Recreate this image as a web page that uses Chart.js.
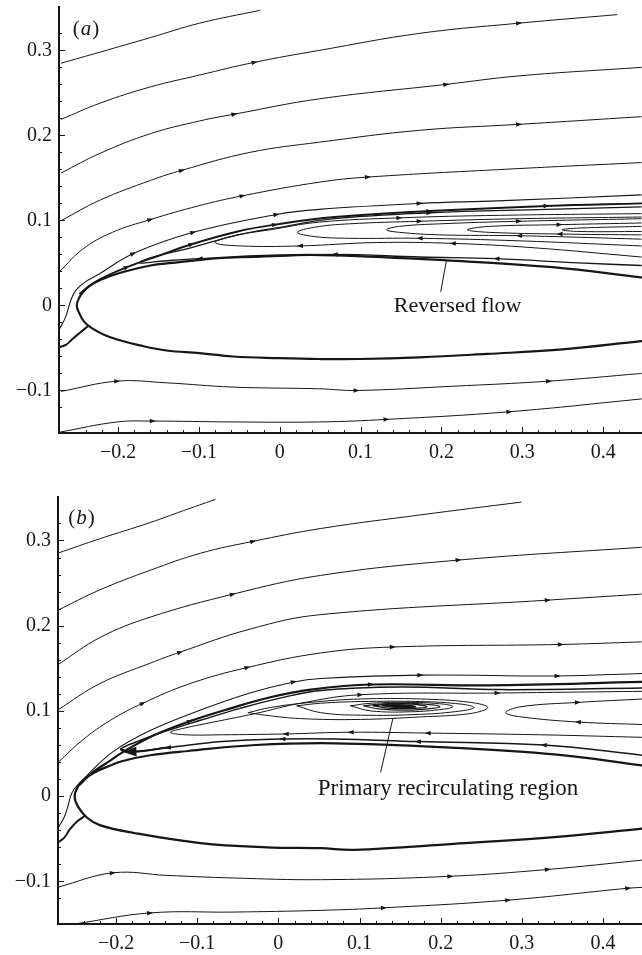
<!DOCTYPE html>
<html>
<head>
<meta charset="utf-8">
<script src="https://cdn.jsdelivr.net/npm/chart.js@4.4.1/dist/chart.umd.min.js"></script>
<style>
  html, body { margin: 0; padding: 0; background: #fff; }
  canvas { display: block; }
</style>
</head>
<body>
<canvas id="panelA" width="642" height="470"></canvas>
<canvas id="panelB" width="642" height="485"></canvas>
<script>
// axis ticks
const xTicks = [-0.2, -0.1, 0, 0.1, 0.2, 0.3, 0.4];
const xTickLabels = ['\u22120.2', '\u22120.1', '0', '0.1', '0.2', '0.3', '0.4'];
const yTicks = [-0.1, 0, 0.1, 0.2, 0.3];
const yTickLabels = ['\u22120.1', '0', '0.1', '0.2', '0.3'];

// ---- panel (a): streamlines as [x, y] points, in flow order ----
const aTop1 = [[-0.270,0.285],[-0.222,0.298],[-0.160,0.315],[-0.099,0.332],[-0.025,0.347]];
const aTop2 = [[-0.270,0.219],[-0.222,0.238],[-0.160,0.257],[-0.099,0.271],[-0.031,0.286],[0.049,0.300],[0.173,0.320],[0.296,0.332],[0.417,0.342]];
const aTop3 = [[-0.270,0.156],[-0.222,0.179],[-0.160,0.202],[-0.099,0.217],[-0.056,0.225],[0.049,0.243],[0.206,0.260],[0.296,0.270],[0.447,0.280]];
const aTop4 = [[-0.270,0.100],[-0.222,0.124],[-0.160,0.147],[-0.121,0.159],[-0.037,0.180],[0.049,0.192],[0.173,0.206],[0.296,0.213],[0.447,0.222]];
const aTop5 = [[-0.272,0.040],[-0.244,0.066],[-0.207,0.086],[-0.160,0.101],[-0.101,0.117],[-0.046,0.129],[0.049,0.145],[0.109,0.151],[0.296,0.161],[0.447,0.168]];
const aDivide = [[-0.272,-0.027],[-0.265,-0.014],[-0.261,-0.002],[-0.258,0.007],[-0.252,0.018],[-0.240,0.028],[-0.225,0.036],[-0.181,0.061],[-0.107,0.086],[-0.004,0.107],[0.049,0.113],[0.173,0.120],[0.269,0.123],[0.447,0.130]];
const aShear = [[-0.247,0.014],[-0.237,0.022],[-0.222,0.031],[-0.189,0.045],[-0.148,0.059],[-0.109,0.072],[-0.052,0.087],[-0.006,0.095],[0.068,0.104],[0.185,0.111],[0.330,0.117],[0.447,0.120]];
const aReverse = [[0.447,0.047],[0.370,0.050],[0.268,0.055],[0.173,0.057],[0.068,0.060],[-0.025,0.057],[-0.099,0.055],[-0.148,0.052],[-0.173,0.050],[-0.160,0.056],[-0.109,0.068],[-0.052,0.083],[-0.006,0.091],[0.068,0.102],[0.185,0.109],[0.330,0.113],[0.447,0.116]];
const aLoop1 = [[0.447,0.057],[0.312,0.068],[0.214,0.073],[0.120,0.074],[0.025,0.070],[-0.049,0.070],[-0.080,0.074],[-0.056,0.082],[-0.012,0.089],[0.049,0.098],[0.148,0.103],[0.272,0.106],[0.447,0.108]];
const aLoop2 = [[0.447,0.070],[0.296,0.076],[0.173,0.079],[0.086,0.079],[0.043,0.081],[0.022,0.086],[0.043,0.092],[0.086,0.096],[0.173,0.099],[0.296,0.102],[0.447,0.104]];
const aLoop3 = [[0.447,0.078],[0.296,0.082],[0.198,0.083],[0.148,0.086],[0.132,0.089],[0.148,0.093],[0.198,0.096],[0.296,0.099],[0.447,0.102]];
const aLoop4 = [[0.447,0.083],[0.346,0.084],[0.259,0.086],[0.232,0.089],[0.259,0.093],[0.346,0.095],[0.447,0.097]];
const aLoop5 = [[0.447,0.087],[0.370,0.087],[0.349,0.089],[0.370,0.091],[0.447,0.093]];
const aStagnation = [[-0.272,-0.049],[-0.264,-0.046],[-0.257,-0.040],[-0.247,-0.032],[-0.238,-0.025]];
const aBelow1 = [[-0.270,-0.101],[-0.201,-0.089],[-0.140,-0.091],[-0.058,-0.096],[0.049,-0.098],[0.095,-0.100],[0.214,-0.095],[0.333,-0.089],[0.447,-0.080]];
const aBelow2 = [[-0.272,-0.149],[-0.201,-0.137],[-0.157,-0.136],[-0.058,-0.137],[0.049,-0.137],[0.132,-0.134],[0.284,-0.125],[0.447,-0.110]];
const aFoilUpper = [[0.447,0.033],[0.337,0.045],[0.206,0.053],[0.068,0.059],[0,0.059],[-0.072,0.056],[-0.133,0.050],[-0.160,0.047],[-0.195,0.039],[-0.222,0.030],[-0.235,0.023],[-0.243,0.016],[-0.248,0.009],[-0.251,0]];
const aFoilLower = [[-0.248,-0.009],[-0.242,-0.019],[-0.232,-0.027],[-0.216,-0.035],[-0.201,-0.040],[-0.173,-0.047],[-0.140,-0.053],[-0.099,-0.056],[-0.058,-0.060],[0,-0.062],[0.049,-0.063],[0.099,-0.063],[0.173,-0.061],[0.256,-0.057],[0.346,-0.052],[0.447,-0.042]];

// ---- panel (b) ----
const bTop1 = [[-0.272,0.285],[-0.220,0.302],[-0.158,0.321],[-0.117,0.335],[-0.078,0.348]];
const bTop2 = [[-0.272,0.218],[-0.220,0.242],[-0.158,0.265],[-0.096,0.285],[-0.031,0.299],[0.052,0.314],[0.175,0.330],[0.299,0.345]];
const bTop3 = [[-0.272,0.154],[-0.220,0.186],[-0.158,0.210],[-0.056,0.237],[0.052,0.259],[0.222,0.277],[0.447,0.292]];
const bTop4 = [[-0.272,0.101],[-0.220,0.132],[-0.158,0.156],[-0.121,0.169],[-0.035,0.196],[0.052,0.213],[0.332,0.230],[0.447,0.237]];
const bTop5 = [[-0.272,0.039],[-0.241,0.066],[-0.207,0.089],[-0.167,0.109],[-0.109,0.132],[-0.038,0.151],[0.052,0.168],[0.141,0.175],[0.348,0.178],[0.447,0.181]];
const bDivide = [[-0.272,-0.038],[-0.264,-0.025],[-0.259,-0.011],[-0.256,0],[-0.251,0.009],[-0.235,0.025],[-0.204,0.052],[-0.158,0.077],[-0.096,0.101],[-0.035,0.121],[0.019,0.134],[0.052,0.138],[0.175,0.142],[0.344,0.141],[0.449,0.144]];
const bShear = [[-0.244,0.014],[-0.230,0.027],[-0.210,0.040],[-0.191,0.052],[-0.152,0.072],[-0.109,0.088],[-0.059,0.103],[-0.010,0.116],[0.040,0.125],[0.114,0.131],[0.258,0.130],[0.449,0.134]];
const bReverse = [[0.449,0.048],[0.327,0.060],[0.172,0.064],[0.070,0.067],[0.005,0.067],[-0.069,0.064],[-0.136,0.057],[-0.183,0.052],[-0.194,0.055],[-0.177,0.063],[-0.146,0.074],[-0.096,0.089],[-0.047,0.103],[0.002,0.115],[0.052,0.124],[0.151,0.128],[0.274,0.125],[0.449,0.127]];
const bLoop1 = [[0.449,0.069],[0.323,0.072],[0.184,0.074],[0.089,0.075],[0.009,0.073],[-0.069,0.072],[-0.115,0.072],[-0.133,0.075],[-0.115,0.080],[-0.090,0.085],[-0.028,0.097],[0.027,0.109],[0.101,0.119],[0.270,0.121],[0.449,0.123]];
const bLoop2 = [[0.449,0.084],[0.369,0.087],[0.299,0.093],[0.280,0.098],[0.299,0.105],[0.369,0.110],[0.449,0.114]];
// closed rings of the primary recirculating region, outer to inner
const bRing1 = [[-0.037,0.098],[-0.010,0.104],[0.040,0.110],[0.101,0.114],[0.175,0.114],[0.237,0.110],[0.258,0.104],[0.237,0.097],[0.175,0.093],[0.101,0.090],[0.027,0.091],[-0.016,0.095],[-0.037,0.098]];
const bRing2 = [[0.023,0.106],[0.052,0.109],[0.101,0.111],[0.175,0.111],[0.225,0.108],[0.241,0.104],[0.225,0.100],[0.175,0.096],[0.101,0.095],[0.052,0.098],[0.023,0.106]];
const bRing3 = [[0.089,0.106],[0.114,0.109],[0.163,0.110],[0.203,0.108],[0.215,0.105],[0.203,0.102],[0.163,0.099],[0.114,0.100],[0.089,0.106]];
const bRing4 = [[0.105,0.106],[0.126,0.108],[0.163,0.109],[0.190,0.107],[0.199,0.105],[0.190,0.103],[0.163,0.101],[0.126,0.102],[0.105,0.106]];
const bRing5 = [[0.117,0.106],[0.138,0.108],[0.165,0.108],[0.183,0.105],[0.165,0.103],[0.138,0.103],[0.117,0.106]];
const bRing6 = [[0.128,0.106],[0.148,0.107],[0.169,0.105],[0.148,0.104],[0.128,0.106]];
const bRing7 = [[0.138,0.106],[0.152,0.1065],[0.162,0.105],[0.152,0.1045],[0.138,0.106]];
const bStagnation = [[-0.273,-0.055],[-0.264,-0.049],[-0.257,-0.039],[-0.247,-0.029],[-0.238,-0.023]];
const bBelow1 = [[-0.272,-0.107],[-0.204,-0.090],[-0.137,-0.093],[-0.056,-0.096],[0.052,-0.098],[0.212,-0.094],[0.332,-0.086],[0.449,-0.075]];
const bBelow2 = [[-0.251,-0.150],[-0.158,-0.137],[-0.056,-0.136],[0.052,-0.134],[0.130,-0.131],[0.283,-0.122],[0.431,-0.108],[0.449,-0.107]];
const bFoilUpper = [[0.449,0.036],[0.340,0.049],[0.212,0.057],[0.070,0.062],[-0.028,0.060],[-0.111,0.053],[-0.158,0.048],[-0.193,0.041],[-0.207,0.036],[-0.226,0.028],[-0.240,0.019],[-0.247,0.011],[-0.251,0]];
const bFoilLower = [[-0.247,-0.012],[-0.236,-0.025],[-0.220,-0.034],[-0.179,-0.043],[-0.096,-0.055],[-0.014,-0.060],[0.052,-0.061],[0.093,-0.063],[0.216,-0.056],[0.340,-0.048],[0.449,-0.038]];

const INK = '#161616';
Chart.defaults.font.family = "'Liberation Serif', 'Times New Roman', serif";
Chart.defaults.font.size = 20;
Chart.defaults.color = INK;

function stream(points, width, arrowAt, arrowSize) {
  return {
    data: points.map(p => ({ x: p[0], y: p[1] })),
    showLine: true,
    borderColor: INK,
    borderWidth: width || 1,
    borderJoinStyle: 'round',
    borderCapStyle: 'round',
    pointRadius: 0,
    tension: 0.4,
    arrowAt: arrowAt || [],
    arrowSize: arrowSize || 1
  };
}

function tickLabel(values, labels) {
  return v => {
    const i = values.findIndex(t => Math.abs(t - v) < 1e-6);
    return i >= 0 ? labels[i] : '';
  };
}

// small filled arrowheads along the streamlines
const arrowPlugin = {
  id: 'flowArrows',
  afterDatasetsDraw(chart) {
    const ctx = chart.ctx;
    ctx.save();
    ctx.fillStyle = INK;
    chart.data.datasets.forEach((ds, i) => {
      const pts = chart.getDatasetMeta(i).data;
      (ds.arrowAt || []).forEach(k => {
        const p = pts[k];
        if (!p) return;
        const a = pts[k - 1] || p, b = pts[k + 1] || p;
        const s = 3 * ds.arrowSize;
        ctx.save();
        ctx.translate(p.x, p.y);
        ctx.rotate(Math.atan2(b.y - a.y, b.x - a.x));
        ctx.beginPath();
        ctx.moveTo(s, 0);
        ctx.lineTo(-s, -s * 0.75);
        ctx.lineTo(-s, s * 0.75);
        ctx.closePath();
        ctx.fill();
        ctx.restore();
      });
    });
    ctx.restore();
  }
};

// minor ticks every 0.02, drawn inward
const tickPlugin = {
  id: 'inwardTicks',
  afterDraw(chart) {
    const { ctx, chartArea, scales } = chart;
    const isStep = v => Math.abs(v / 0.02 - Math.round(v / 0.02)) < 1e-6;
    const isMajor = v => Math.abs(v * 10 - Math.round(v * 10)) < 1e-6;
    ctx.save();
    ctx.strokeStyle = INK;
    ctx.lineWidth = 1;
    scales.x.ticks.forEach(t => {
      if (!isStep(t.value)) return;
      const px = Math.round(scales.x.getPixelForValue(t.value)) + 0.5;
      ctx.beginPath();
      ctx.moveTo(px, chartArea.bottom);
      ctx.lineTo(px, chartArea.bottom - (isMajor(t.value) ? 6 : 3));
      ctx.stroke();
    });
    scales.y.ticks.forEach(t => {
      if (!isStep(t.value)) return;
      const py = Math.round(scales.y.getPixelForValue(t.value)) + 0.5;
      ctx.beginPath();
      ctx.moveTo(chartArea.left, py);
      ctx.lineTo(chartArea.left + (isMajor(t.value) ? 6 : 3), py);
      ctx.stroke();
    });
    ctx.restore();
  }
};

// panel letter, annotation text and its leader line
const notesPlugin = {
  id: 'notes',
  afterDraw(chart, args, o) {
    const { ctx, scales: { x, y } } = chart;
    ctx.save();
    ctx.fillStyle = INK;
    ctx.strokeStyle = INK;
    ctx.textBaseline = 'alphabetic';
    let px = x.getPixelForValue(o.panelAt[0]);
    const py = y.getPixelForValue(o.panelAt[1]);
    ctx.font = "21px 'Liberation Serif', serif";
    ctx.fillText('(', px, py); px += ctx.measureText('(').width + 1;
    ctx.font = "italic 21px 'Liberation Serif', serif";
    ctx.fillText(o.panel, px, py); px += ctx.measureText(o.panel).width + 1;
    ctx.font = "21px 'Liberation Serif', serif";
    ctx.fillText(')', px, py);

    ctx.lineWidth = 1;
    ctx.beginPath();
    ctx.moveTo(x.getPixelForValue(o.leader[0][0]), y.getPixelForValue(o.leader[0][1]));
    ctx.lineTo(x.getPixelForValue(o.leader[1][0]), y.getPixelForValue(o.leader[1][1]));
    ctx.stroke();

    ctx.font = o.labelSize + "px 'Liberation Serif', serif";
    ctx.textAlign = 'center';
    ctx.fillText(o.label, x.getPixelForValue(o.labelAt[0]), y.getPixelForValue(o.labelAt[1]));
    ctx.restore();
  }
};

function options(xMin, padTop, yWidth, xHeight, notes) {
  return {
    responsive: false,
    animation: false,
    layout: { padding: { top: padTop, left: 0, right: 0, bottom: 0 } },
    plugins: { legend: { display: false }, tooltip: { enabled: false }, notes },
    scales: {
      x: {
        type: 'linear', min: xMin, max: 0.448,
        grid: { display: false, drawTicks: false },
        border: { display: true, color: INK, width: 2 },
        ticks: { stepSize: 0.02, autoSkip: false, maxRotation: 0, padding: 8, callback: tickLabel(xTicks, xTickLabels) },
        afterFit: s => { s.height = xHeight; s.paddingLeft = 0; s.paddingRight = 0; }
      },
      y: {
        type: 'linear', min: -0.15, max: 0.351,
        grid: { display: false, drawTicks: false },
        border: { display: true, color: INK, width: 2 },
        ticks: { stepSize: 0.02, autoSkip: false, padding: 7, callback: tickLabel(yTicks, yTickLabels) },
        afterFit: s => { s.width = yWidth; s.paddingTop = 0; s.paddingBottom = 0; }
      }
    }
  };
}

new Chart(document.getElementById('panelA'), {
  type: 'scatter',
  data: {
    datasets: [
      stream(aTop1, 1),
      stream(aTop2, 1, [4, 7]),
      stream(aTop3, 1, [4, 6]),
      stream(aTop4, 1, [3, 7]),
      stream(aTop5, 1, [3, 5, 7]),
      stream(aDivide, 1.1, [7, 8, 9, 11]),
      stream(aShear, 1.9, [3, 5, 7, 9, 10]),
      stream(aReverse, 1.3, [2, 4, 6, 14]),
      stream(aLoop1, 1, [2, 4, 10]),
      stream(aLoop2, 1, [2, 8]),
      stream(aLoop3, 1, [1, 7]),
      stream(aLoop4, 1, [1, 5]),
      stream(aLoop5, 1),
      stream(aStagnation, 2),
      stream(aBelow1, 1, [1, 5, 7]),
      stream(aBelow2, 1, [2, 5, 6]),
      stream(aFoilUpper.concat(aFoilLower), 2.2)
    ]
  },
  options: options(-0.273, 7, 59, 37, {
    panel: 'a', panelAt: [-0.256, 0.318],
    label: 'Reversed flow', labelSize: 22, labelAt: [0.220, -0.008],
    leader: [[0.206, 0.052], [0.199, 0.016]]
  }),
  plugins: [arrowPlugin, tickPlugin, notesPlugin]
});

new Chart(document.getElementById('panelB'), {
  type: 'scatter',
  data: {
    datasets: [
      stream(bTop1, 1),
      stream(bTop2, 1, [4]),
      stream(bTop3, 1, [3, 5]),
      stream(bTop4, 1, [3, 6]),
      stream(bTop5, 1, [3, 5, 7, 8]),
      stream(bDivide, 1.1, [10, 12, 13]),
      stream(bShear, 2.2, [5, 9]),
      stream(bReverse, 1.5, [1, 2, 4, 6]),
      stream(bReverse.slice(6, 9), 2, [1], 2.2),
      stream(bLoop1, 1, [2, 3, 4, 12, 13]),
      stream(bLoop2, 1, [1, 5]),
      stream(bRing1, 1),
      stream(bRing2, 1),
      stream(bRing3, 1),
      stream(bRing4, 1.2),
      stream(bRing5, 1.4),
      stream(bRing6, 1.6),
      stream(bRing7, 2),
      stream(bStagnation, 2),
      stream(bBelow1, 1, [1, 5, 6]),
      stream(bBelow2, 1, [1, 4, 5, 6]),
      stream(bFoilUpper.concat(bFoilLower), 2.2)
    ]
  },
  options: options(-0.2715, 27, 58, 31, {
    panel: 'b', panelAt: [-0.259, 0.319],
    label: 'Primary recirculating region', labelSize: 23, labelAt: [0.209, 0.001],
    leader: [[0.141, 0.091], [0.126, 0.028]]
  }),
  plugins: [arrowPlugin, tickPlugin, notesPlugin]
});
</script>
</body>
</html>
